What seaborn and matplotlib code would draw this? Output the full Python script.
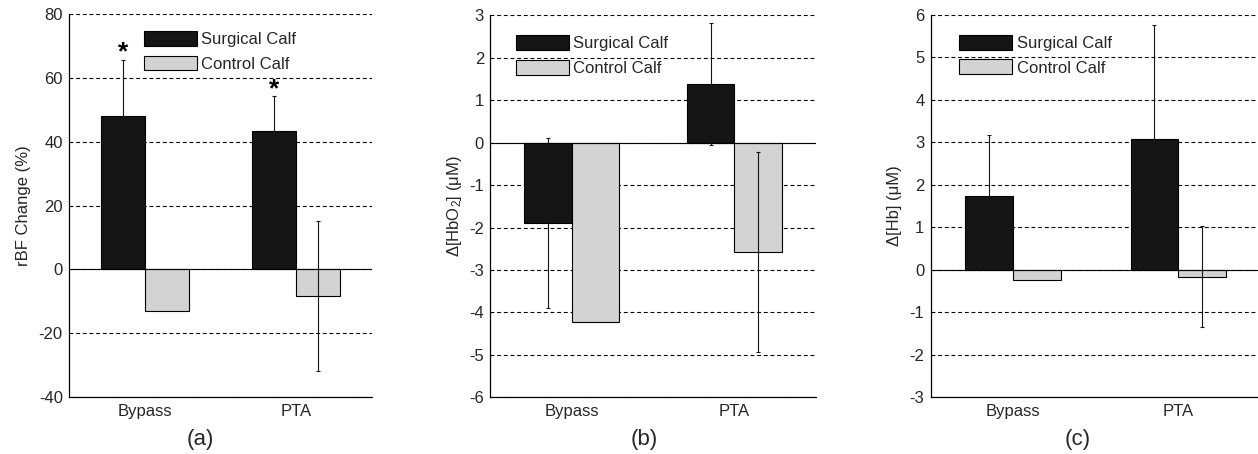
import numpy as np
import pandas as pd
import matplotlib
matplotlib.use("Agg")
import matplotlib.pyplot as plt
import seaborn as sns

# ---------------- data ----------------
groups = ["Bypass", "PTA"]
calves = ["Surgical Calf", "Control Calf"]

rbf_surgical = [48.0, 43.3]
rbf_control = [-12.9, -8.4]
rbf_surgical_err = [17.7, 11.0]
rbf_control_err = [np.nan, 23.6]

hbo2_surgical = [-1.90, 1.38]
hbo2_control = [-4.22, -2.58]
hbo2_surgical_err = [2.00, 1.44]
hbo2_control_err = [np.nan, 2.36]

hb_surgical = [1.74, 3.09]
hb_control = [-0.24, -0.17]
hb_surgical_err = [1.44, 2.67]
hb_control_err = [np.nan, 1.19]

rbf_ticks = [-40, -20, 0, 20, 40, 60, 80]
hbo2_ticks = [-6, -5, -4, -3, -2, -1, 0, 1, 2, 3]
hb_ticks = [-3, -2, -1, 0, 1, 2, 3, 4, 5, 6]

panel_labels = ["(a)", "(b)", "(c)"]
ylabels = ["rBF Change (%)", "\u0394[HbO$_2$] (\u03bcM)", "\u0394[Hb] (\u03bcM)"]

# ---------------- style ----------------
sns.set_theme(style="white")
plt.rcParams["font.family"] = ["Liberation Sans", "DejaVu Sans"]
plt.rcParams["mathtext.fontset"] = "custom"
plt.rcParams["mathtext.rm"] = "Liberation Sans"
plt.rcParams["mathtext.it"] = "Liberation Sans:italic"
plt.rcParams["mathtext.bf"] = "Liberation Sans:bold"

TEXT = "#262626"
BLACK_BAR = "#151515"
GRAY_BAR = "#d3d3d3"

W, H = 1258, 454
fig = plt.figure(figsize=(W / 100, H / 100), dpi=100)


def px_axes(left, top, right, bottom):
    return fig.add_axes([left / W, 1 - bottom / H, (right - left) / W, (bottom - top) / H])


def draw_panel(ax, surg, ctrl, surg_err, ctrl_err, ticks, ylabel, label_x, leg_anchor, stars=False):
    df = pd.DataFrame({
        "group": groups * 2,
        "calf": [calves[0]] * 2 + [calves[1]] * 2,
        "value": list(surg) + list(ctrl),
    })
    sns.barplot(data=df, x="group", y="value", hue="calf", order=groups, hue_order=calves,
                palette=[BLACK_BAR, GRAY_BAR], saturation=1, width=0.58,
                edgecolor="black", linewidth=0.8, errorbar=None, legend=False, ax=ax, zorder=2)
    bar_containers = list(ax.containers)
    ax.set_xlim(-0.5, 1.5)
    ax.set_ylim(ticks[0], ticks[-1])
    ax.set_yticks(ticks)
    ax.set_yticklabels([str(t) for t in ticks])
    ax.set_xlabel("")
    ax.set_ylabel(ylabel, fontsize=12, color=TEXT, va="center")
    ax.yaxis.set_label_coords(label_x, 0.5)

    ax.grid(axis="y", color="black", linestyle=(0, (3.5, 2.5)), linewidth=0.8)
    ax.grid(axis="x", visible=False)
    ax.set_axisbelow(True)
    ax.axhline(0, color="black", linewidth=0.8, zorder=3)

    for s in ["top", "right"]:
        ax.spines[s].set_visible(False)
    for s in ["left", "bottom"]:
        ax.spines[s].set_color("black")
        ax.spines[s].set_linewidth(0.9)
    ax.tick_params(axis="both", length=0, labelsize=12, labelcolor=TEXT)
    ax.tick_params(axis="y", pad=4.5)
    ax.tick_params(axis="x", pad=5)

    # error bars
    for i, (cont, vals, errs) in enumerate(zip(bar_containers, [surg, ctrl], [surg_err, ctrl_err])):
        xs = [p.get_x() + p.get_width() / 2 for p in cont.patches]
        for x, v, e in zip(xs, vals, errs):
            if np.isnan(e):
                continue
            ax.errorbar([x], [v], yerr=[e], fmt="none", ecolor=BLACK_BAR,
                        elinewidth=0.8, capsize=1.5, capthick=0.8, zorder=4)
        if stars and i == 0:
            for x, v, e in zip(xs, vals, errs):
                ax.annotate("*", xy=(x, v + e), xytext=(0, 5), textcoords="offset points",
                            ha="center", va="center", fontsize=19, fontweight="bold",
                            color="black")

    handles = [c.patches[0] for c in bar_containers]
    ax.legend(handles, calves, loc="upper left", bbox_to_anchor=leg_anchor, frameon=False,
              borderpad=0, borderaxespad=0, handlelength=3.2, handleheight=1.0,
              handletextpad=0.25, labelspacing=0.5, fontsize=12, labelcolor=TEXT)


ax_a = px_axes(69, 14, 372, 397)
ax_b = px_axes(490.3, 15.3, 815.7, 397.3)
ax_c = px_axes(930.7, 15, 1261, 397)

draw_panel(ax_a, rbf_surgical, rbf_control, rbf_surgical_err, rbf_control_err,
           rbf_ticks, ylabels[0], -0.15, (0.2475, 0.9556), stars=True)
draw_panel(ax_b, hbo2_surgical, hbo2_control, hbo2_surgical_err, hbo2_control_err,
           hbo2_ticks, ylabels[1], -0.11, (0.078, 0.948))
draw_panel(ax_c, hb_surgical, hb_control, hb_surgical_err, hb_control_err,
           hb_ticks, ylabels[2], -0.11, (0.0857, 0.948))

for lab, xc in zip(panel_labels, [200, 644, 1078]):
    fig.text(xc / W, 1 - 439 / H, lab, ha="center", va="center", fontsize=16, color=TEXT)

fig.savefig("out.png", dpi=100, facecolor="white")
